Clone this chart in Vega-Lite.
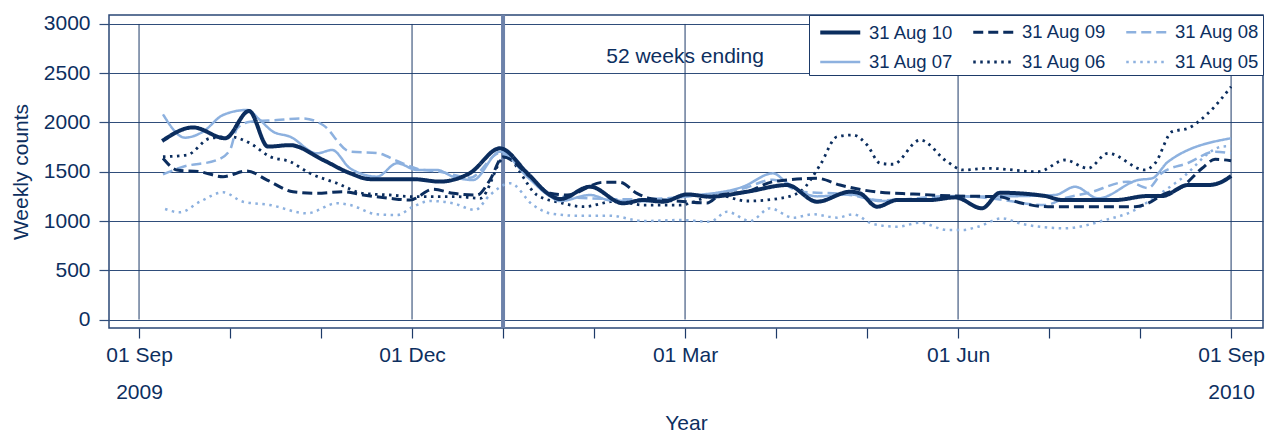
{
  "$schema": "https://vega.github.io/schema/vega-lite/v6.json",
  "width": 1154,
  "height": 313,
  "autosize": {"type": "none"},
  "padding": {"left": 109, "top": 15, "right": 13, "bottom": 104},
  "background": "white",
  "config": {
    "font": "Liberation Sans",
    "view": {"stroke": "#2a4775", "strokeWidth": 1.5},
    "axis": {"labelColor": "#0d2f5f", "titleColor": "#0d2f5f", "tickColor": "#1d3a68", "labelFont": "Liberation Sans", "titleFont": "Liberation Sans"},
    "legend": {
      "orient": "top-right", "offset": 0, "columns": 3, "direction": "horizontal",
      "symbolType": "M-0.5,0H2.7", "symbolSize": 625, "labelFontSize": 18.5, "labelColor": "#0d2f5f",
      "labelOffset": 28, "labelLimit": 300, "strokeColor": "#1d3a68", "fillColor": "white",
      "padding": 3, "rowPadding": 6, "columnPadding": 11, "labelFont": "Liberation Sans"
    }
  },
  "datasets": {
    "series": [
      {"series": "31 Aug 05", "week": 1.24, "count": 1122},
      {"series": "31 Aug 05", "week": 1.95, "count": 1088},
      {"series": "31 Aug 05", "week": 2.9, "count": 1196},
      {"series": "31 Aug 05", "week": 4.0, "count": 1291},
      {"series": "31 Aug 05", "week": 4.95, "count": 1196},
      {"series": "31 Aug 05", "week": 6.24, "count": 1162},
      {"series": "31 Aug 05", "week": 8.0, "count": 1078},
      {"series": "31 Aug 05", "week": 9.43, "count": 1180},
      {"series": "31 Aug 05", "week": 10.05, "count": 1162},
      {"series": "31 Aug 05", "week": 11.33, "count": 1068},
      {"series": "31 Aug 05", "week": 12.29, "count": 1061},
      {"series": "31 Aug 05", "week": 13.05, "count": 1145},
      {"series": "31 Aug 05", "week": 13.86, "count": 1203},
      {"series": "31 Aug 05", "week": 14.95, "count": 1180},
      {"series": "31 Aug 05", "week": 16.0, "count": 1112},
      {"series": "31 Aug 05", "week": 16.71, "count": 1264},
      {"series": "31 Aug 05", "week": 17.67, "count": 1383},
      {"series": "31 Aug 05", "week": 18.76, "count": 1162},
      {"series": "31 Aug 05", "week": 19.57, "count": 1078},
      {"series": "31 Aug 05", "week": 20.86, "count": 1054},
      {"series": "31 Aug 05", "week": 22.43, "count": 1054},
      {"series": "31 Aug 05", "week": 24.0, "count": 1000},
      {"series": "31 Aug 05", "week": 25.76, "count": 1010},
      {"series": "31 Aug 05", "week": 27.19, "count": 993},
      {"series": "31 Aug 05", "week": 28.0, "count": 1094},
      {"series": "31 Aug 05", "week": 29.1, "count": 1000},
      {"series": "31 Aug 05", "week": 30.05, "count": 1129},
      {"series": "31 Aug 05", "week": 31.14, "count": 1034},
      {"series": "31 Aug 05", "week": 32.1, "count": 1068},
      {"series": "31 Aug 05", "week": 33.24, "count": 1034},
      {"series": "31 Aug 05", "week": 34.0, "count": 1068},
      {"series": "31 Aug 05", "week": 34.95, "count": 970},
      {"series": "31 Aug 05", "week": 36.1, "count": 942},
      {"series": "31 Aug 05", "week": 37.19, "count": 983},
      {"series": "31 Aug 05", "week": 38.48, "count": 909},
      {"series": "31 Aug 05", "week": 39.24, "count": 909},
      {"series": "31 Aug 05", "week": 39.95, "count": 942},
      {"series": "31 Aug 05", "week": 41.1, "count": 1027},
      {"series": "31 Aug 05", "week": 42.05, "count": 970},
      {"series": "31 Aug 05", "week": 44.1, "count": 926},
      {"series": "31 Aug 05", "week": 46.0, "count": 1010},
      {"series": "31 Aug 05", "week": 47.43, "count": 1112},
      {"series": "31 Aug 05", "week": 48.05, "count": 1196},
      {"series": "31 Aug 05", "week": 49.57, "count": 1420},
      {"series": "31 Aug 05", "week": 51.57, "count": 1755},
      {"series": "31 Aug 05", "week": 52.0, "count": 1760},

      {"series": "31 Aug 06", "week": 1.14, "count": 1653},
      {"series": "31 Aug 06", "week": 2.29, "count": 1670},
      {"series": "31 Aug 06", "week": 3.38, "count": 1840},
      {"series": "31 Aug 06", "week": 4.33, "count": 1856},
      {"series": "31 Aug 06", "week": 5.29, "count": 1789},
      {"series": "31 Aug 06", "week": 6.24, "count": 1653},
      {"series": "31 Aug 06", "week": 7.19, "count": 1602},
      {"series": "31 Aug 06", "week": 8.14, "count": 1484},
      {"series": "31 Aug 06", "week": 9.43, "count": 1383},
      {"series": "31 Aug 06", "week": 10.67, "count": 1281},
      {"series": "31 Aug 06", "week": 11.95, "count": 1264},
      {"series": "31 Aug 06", "week": 13.05, "count": 1247},
      {"series": "31 Aug 06", "week": 13.86, "count": 1247},
      {"series": "31 Aug 06", "week": 15.14, "count": 1247},
      {"series": "31 Aug 06", "week": 16.24, "count": 1230},
      {"series": "31 Aug 06", "week": 17.43, "count": 1650},
      {"series": "31 Aug 06", "week": 18.95, "count": 1264},
      {"series": "31 Aug 06", "week": 20.19, "count": 1180},
      {"series": "31 Aug 06", "week": 21.14, "count": 1145},
      {"series": "31 Aug 06", "week": 22.76, "count": 1203},
      {"series": "31 Aug 06", "week": 24.0, "count": 1162},
      {"series": "31 Aug 06", "week": 25.76, "count": 1162},
      {"series": "31 Aug 06", "week": 27.52, "count": 1264},
      {"series": "31 Aug 06", "week": 28.95, "count": 1203},
      {"series": "31 Aug 06", "week": 30.52, "count": 1230},
      {"series": "31 Aug 06", "week": 31.48, "count": 1297},
      {"series": "31 Aug 06", "week": 32.43, "count": 1568},
      {"series": "31 Aug 06", "week": 33.24, "count": 1856},
      {"series": "31 Aug 06", "week": 34.0, "count": 1873},
      {"series": "31 Aug 06", "week": 34.67, "count": 1771},
      {"series": "31 Aug 06", "week": 35.29, "count": 1586},
      {"series": "31 Aug 06", "week": 35.9, "count": 1576},
      {"series": "31 Aug 06", "week": 37.19, "count": 1822},
      {"series": "31 Aug 06", "week": 38.48, "count": 1602},
      {"series": "31 Aug 06", "week": 39.24, "count": 1518},
      {"series": "31 Aug 06", "week": 40.43, "count": 1535},
      {"series": "31 Aug 06", "week": 42.81, "count": 1500},
      {"series": "31 Aug 06", "week": 44.1, "count": 1619},
      {"series": "31 Aug 06", "week": 45.19, "count": 1535},
      {"series": "31 Aug 06", "week": 46.14, "count": 1687},
      {"series": "31 Aug 06", "week": 47.9, "count": 1518},
      {"series": "31 Aug 06", "week": 48.38, "count": 1586},
      {"series": "31 Aug 06", "week": 49.19, "count": 1907},
      {"series": "31 Aug 06", "week": 49.95, "count": 1941},
      {"series": "31 Aug 06", "week": 50.9, "count": 2093},
      {"series": "31 Aug 06", "week": 52.0, "count": 2363},

      {"series": "31 Aug 07", "week": 1.14, "count": 2083},
      {"series": "31 Aug 07", "week": 2.19, "count": 1846},
      {"series": "31 Aug 07", "week": 3.05, "count": 1907},
      {"series": "31 Aug 07", "week": 4.0, "count": 2076},
      {"series": "31 Aug 07", "week": 5.14, "count": 2127},
      {"series": "31 Aug 07", "week": 5.76, "count": 2025},
      {"series": "31 Aug 07", "week": 6.38, "count": 1907},
      {"series": "31 Aug 07", "week": 7.19, "count": 1856},
      {"series": "31 Aug 07", "week": 8.48, "count": 1687},
      {"series": "31 Aug 07", "week": 9.19, "count": 1721},
      {"series": "31 Aug 07", "week": 10.05, "count": 1535},
      {"series": "31 Aug 07", "week": 11.33, "count": 1450},
      {"series": "31 Aug 07", "week": 12.29, "count": 1586},
      {"series": "31 Aug 07", "week": 13.24, "count": 1518},
      {"series": "31 Aug 07", "week": 14.19, "count": 1518},
      {"series": "31 Aug 07", "week": 14.95, "count": 1450},
      {"series": "31 Aug 07", "week": 15.9, "count": 1416},
      {"series": "31 Aug 07", "week": 17.19, "count": 1704},
      {"series": "31 Aug 07", "week": 18.48, "count": 1450},
      {"series": "31 Aug 07", "week": 19.57, "count": 1250},
      {"series": "31 Aug 07", "week": 20.05, "count": 1203},
      {"series": "31 Aug 07", "week": 21.48, "count": 1264},
      {"series": "31 Aug 07", "week": 22.43, "count": 1210},
      {"series": "31 Aug 07", "week": 24.0, "count": 1200},
      {"series": "31 Aug 07", "week": 26.1, "count": 1250},
      {"series": "31 Aug 07", "week": 28.76, "count": 1348},
      {"series": "31 Aug 07", "week": 30.19, "count": 1484},
      {"series": "31 Aug 07", "week": 30.86, "count": 1386},
      {"series": "31 Aug 07", "week": 32.29, "count": 1250},
      {"series": "31 Aug 07", "week": 33.86, "count": 1270},
      {"series": "31 Aug 07", "week": 35.29, "count": 1203},
      {"series": "31 Aug 07", "week": 37.67, "count": 1220},
      {"series": "31 Aug 07", "week": 38.86, "count": 1247},
      {"series": "31 Aug 07", "week": 41.0, "count": 1250},
      {"series": "31 Aug 07", "week": 43.62, "count": 1264},
      {"series": "31 Aug 07", "week": 44.57, "count": 1348},
      {"series": "31 Aug 07", "week": 45.67, "count": 1230},
      {"series": "31 Aug 07", "week": 47.57, "count": 1416},
      {"series": "31 Aug 07", "week": 48.24, "count": 1433},
      {"series": "31 Aug 07", "week": 49.0, "count": 1602},
      {"series": "31 Aug 07", "week": 52.0, "count": 1840},

      {"series": "31 Aug 08", "week": 1.14, "count": 1474},
      {"series": "31 Aug 08", "week": 2.1, "count": 1551},
      {"series": "31 Aug 08", "week": 3.71, "count": 1619},
      {"series": "31 Aug 08", "week": 4.33, "count": 1721},
      {"series": "31 Aug 08", "week": 4.67, "count": 1941},
      {"series": "31 Aug 08", "week": 5.29, "count": 2008},
      {"series": "31 Aug 08", "week": 6.57, "count": 2025},
      {"series": "31 Aug 08", "week": 7.81, "count": 2042},
      {"series": "31 Aug 08", "week": 8.76, "count": 1975},
      {"series": "31 Aug 08", "week": 10.05, "count": 1704},
      {"series": "31 Aug 08", "week": 11.33, "count": 1690},
      {"series": "31 Aug 08", "week": 12.29, "count": 1610},
      {"series": "31 Aug 08", "week": 13.24, "count": 1530},
      {"series": "31 Aug 08", "week": 14.33, "count": 1500},
      {"series": "31 Aug 08", "week": 15.76, "count": 1440},
      {"series": "31 Aug 08", "week": 17.19, "count": 1690},
      {"series": "31 Aug 08", "week": 18.48, "count": 1470},
      {"series": "31 Aug 08", "week": 19.81, "count": 1260},
      {"series": "31 Aug 08", "week": 21.48, "count": 1230},
      {"series": "31 Aug 08", "week": 23.86, "count": 1220},
      {"series": "31 Aug 08", "week": 26.1, "count": 1250},
      {"series": "31 Aug 08", "week": 28.76, "count": 1330},
      {"series": "31 Aug 08", "week": 30.19, "count": 1420},
      {"series": "31 Aug 08", "week": 31.48, "count": 1300},
      {"series": "31 Aug 08", "week": 33.71, "count": 1270},
      {"series": "31 Aug 08", "week": 35.29, "count": 1210},
      {"series": "31 Aug 08", "week": 38.86, "count": 1254},
      {"series": "31 Aug 08", "week": 40.43, "count": 1233},
      {"series": "31 Aug 08", "week": 43.14, "count": 1162},
      {"series": "31 Aug 08", "week": 44.1, "count": 1233},
      {"series": "31 Aug 08", "week": 45.19, "count": 1284},
      {"series": "31 Aug 08", "week": 47.1, "count": 1399},
      {"series": "31 Aug 08", "week": 48.05, "count": 1335},
      {"series": "31 Aug 08", "week": 48.71, "count": 1487},
      {"series": "31 Aug 08", "week": 49.95, "count": 1589},
      {"series": "31 Aug 08", "week": 51.24, "count": 1704},
      {"series": "31 Aug 08", "week": 52.0, "count": 1687},

      {"series": "31 Aug 09", "week": 1.14, "count": 1636},
      {"series": "31 Aug 09", "week": 1.81, "count": 1518},
      {"series": "31 Aug 09", "week": 2.9, "count": 1500},
      {"series": "31 Aug 09", "week": 4.0, "count": 1450},
      {"series": "31 Aug 09", "week": 5.14, "count": 1508},
      {"series": "31 Aug 09", "week": 6.1, "count": 1416},
      {"series": "31 Aug 09", "week": 7.33, "count": 1297},
      {"series": "31 Aug 09", "week": 8.48, "count": 1281},
      {"series": "31 Aug 09", "week": 9.71, "count": 1297},
      {"series": "31 Aug 09", "week": 10.67, "count": 1264},
      {"series": "31 Aug 09", "week": 11.95, "count": 1230},
      {"series": "31 Aug 09", "week": 12.9, "count": 1213},
      {"series": "31 Aug 09", "week": 14.0, "count": 1322},
      {"series": "31 Aug 09", "week": 14.95, "count": 1281},
      {"series": "31 Aug 09", "week": 16.1, "count": 1264},
      {"series": "31 Aug 09", "week": 16.71, "count": 1416},
      {"series": "31 Aug 09", "week": 17.33, "count": 1650},
      {"series": "31 Aug 09", "week": 18.62, "count": 1450},
      {"series": "31 Aug 09", "week": 19.57, "count": 1281},
      {"series": "31 Aug 09", "week": 20.38, "count": 1264},
      {"series": "31 Aug 09", "week": 22.1, "count": 1393},
      {"series": "31 Aug 09", "week": 22.9, "count": 1393},
      {"series": "31 Aug 09", "week": 23.71, "count": 1281},
      {"series": "31 Aug 09", "week": 24.33, "count": 1230},
      {"series": "31 Aug 09", "week": 25.76, "count": 1200},
      {"series": "31 Aug 09", "week": 27.05, "count": 1183},
      {"series": "31 Aug 09", "week": 27.67, "count": 1264},
      {"series": "31 Aug 09", "week": 28.95, "count": 1297},
      {"series": "31 Aug 09", "week": 30.19, "count": 1399},
      {"series": "31 Aug 09", "week": 32.29, "count": 1433},
      {"series": "31 Aug 09", "week": 33.38, "count": 1365},
      {"series": "31 Aug 09", "week": 35.29, "count": 1291},
      {"series": "31 Aug 09", "week": 36.86, "count": 1274},
      {"series": "31 Aug 09", "week": 38.86, "count": 1254},
      {"series": "31 Aug 09", "week": 40.9, "count": 1247},
      {"series": "31 Aug 09", "week": 42.05, "count": 1180},
      {"series": "31 Aug 09", "week": 43.29, "count": 1145},
      {"series": "31 Aug 09", "week": 45.19, "count": 1145},
      {"series": "31 Aug 09", "week": 47.43, "count": 1145},
      {"series": "31 Aug 09", "week": 48.05, "count": 1180},
      {"series": "31 Aug 09", "week": 48.71, "count": 1264},
      {"series": "31 Aug 09", "week": 49.67, "count": 1348},
      {"series": "31 Aug 09", "week": 50.62, "count": 1535},
      {"series": "31 Aug 09", "week": 51.24, "count": 1626},
      {"series": "31 Aug 09", "week": 52.0, "count": 1612},

      {"series": "31 Aug 10", "week": 1.1, "count": 1812},
      {"series": "31 Aug 10", "week": 2.57, "count": 1950},
      {"series": "31 Aug 10", "week": 4.1, "count": 1840},
      {"series": "31 Aug 10", "week": 5.24, "count": 2117},
      {"series": "31 Aug 10", "week": 6.14, "count": 1755},
      {"series": "31 Aug 10", "week": 7.19, "count": 1770},
      {"series": "31 Aug 10", "week": 8.76, "count": 1620},
      {"series": "31 Aug 10", "week": 10.05, "count": 1485},
      {"series": "31 Aug 10", "week": 11.0, "count": 1425},
      {"series": "31 Aug 10", "week": 13.05, "count": 1425},
      {"series": "31 Aug 10", "week": 14.33, "count": 1400},
      {"series": "31 Aug 10", "week": 15.76, "count": 1487},
      {"series": "31 Aug 10", "week": 17.19, "count": 1738},
      {"series": "31 Aug 10", "week": 18.48, "count": 1487},
      {"series": "31 Aug 10", "week": 19.57, "count": 1264},
      {"series": "31 Aug 10", "week": 20.05, "count": 1223},
      {"series": "31 Aug 10", "week": 21.48, "count": 1348},
      {"series": "31 Aug 10", "week": 23.05, "count": 1180},
      {"series": "31 Aug 10", "week": 24.0, "count": 1213},
      {"series": "31 Aug 10", "week": 24.95, "count": 1196},
      {"series": "31 Aug 10", "week": 26.1, "count": 1270},
      {"series": "31 Aug 10", "week": 27.19, "count": 1247},
      {"series": "31 Aug 10", "week": 28.95, "count": 1297},
      {"series": "31 Aug 10", "week": 30.86, "count": 1365},
      {"series": "31 Aug 10", "week": 32.29, "count": 1196},
      {"series": "31 Aug 10", "week": 33.86, "count": 1297},
      {"series": "31 Aug 10", "week": 34.33, "count": 1281},
      {"series": "31 Aug 10", "week": 35.14, "count": 1145},
      {"series": "31 Aug 10", "week": 36.1, "count": 1213},
      {"series": "31 Aug 10", "week": 37.67, "count": 1213},
      {"series": "31 Aug 10", "week": 38.86, "count": 1240},
      {"series": "31 Aug 10", "week": 40.14, "count": 1129},
      {"series": "31 Aug 10", "week": 41.0, "count": 1287},
      {"series": "31 Aug 10", "week": 43.14, "count": 1254},
      {"series": "31 Aug 10", "week": 43.95, "count": 1213},
      {"series": "31 Aug 10", "week": 46.48, "count": 1213},
      {"series": "31 Aug 10", "week": 48.05, "count": 1254},
      {"series": "31 Aug 10", "week": 48.71, "count": 1254},
      {"series": "31 Aug 10", "week": 49.95, "count": 1365},
      {"series": "31 Aug 10", "week": 50.9, "count": 1365},
      {"series": "31 Aug 10", "week": 51.57, "count": 1399},
      {"series": "31 Aug 10", "week": 52.0, "count": 1457}
    ],
    "quarters": [{"week": 0}, {"week": 13}, {"week": 26}, {"week": 39}, {"week": 52}],
    "yearstart": [{"week": 17.333}],
    "note": [{"text": "52 weeks ending", "week": 26, "count": 2665}]
  },
  "encoding": {
    "x": {
      "field": "week",
      "type": "quantitative",
      "scale": {"domain": [-1.43, 53.52], "nice": false, "zero": false},
      "axis": {
        "values": [0, 4.3333, 8.6667, 13, 17.3333, 21.6667, 26, 30.3333, 34.6667, 39, 43.3333, 47.6667, 52],
        "grid": false,
        "domain": false,
        "tickSize": 10,
        "tickWidth": 1.2,
        "labelFontSize": 21,
        "labelPadding": 6,
        "labelLineHeight": 37,
        "labelFlush": false,
        "labelOverlap": false,
        "labelBound": false,
        "labelBaseline": "top",
        "labelExpr": "datum.value == 0 ? ['01 Sep', '2009'] : datum.value == 13 ? '01 Dec' : datum.value == 26 ? '01 Mar' : datum.value == 39 ? '01 Jun' : datum.value == 52 ? ['01 Sep', '2010'] : ''",
        "title": "Year",
        "titleFontSize": 21,
        "titleFontWeight": "normal",
        "titlePadding": 10
      }
    }
  },
  "layer": [
    {
      "data": {"name": "quarters"},
      "mark": {"type": "rule", "color": "#1d3a68", "strokeWidth": 1},
      "encoding": {
        "y": {"datum": 0, "type": "quantitative"},
        "y2": {"datum": 3000}
      }
    },
    {
      "data": {"name": "yearstart"},
      "mark": {"type": "rule", "color": "#6d82aa", "strokeWidth": 4},
      "encoding": {}
    },
    {
      "data": {"name": "series"},
      "mark": {"type": "line", "interpolate": "monotone"},
      "encoding": {
        "y": {
          "field": "count",
          "type": "quantitative",
          "scale": {"domain": [-86, 3091], "nice": false, "zero": false},
          "axis": {
            "values": [0, 500, 1000, 1500, 2000, 2500, 3000],
            "format": "d",
            "grid": true,
            "gridColor": "#2f4d7a",
            "gridWidth": 1.2,
            "domain": false,
            "tickSize": 10,
            "tickColor": "#2f4d7a",
            "tickWidth": 1.2,
            "labelFontSize": 21,
            "labelPadding": 9,
            "title": "Weekly counts",
            "titleFontSize": 21,
            "titleFontWeight": "normal",
            "titlePadding": 12
          }
        },
        "color": {
          "field": "series",
          "type": "nominal",
          "title": null,
          "scale": {
            "domain": ["31 Aug 10", "31 Aug 09", "31 Aug 08", "31 Aug 07", "31 Aug 06", "31 Aug 05"],
            "range": ["#0b2d5e", "#0b2d5e", "#8db1df", "#8db1df", "#0b2d5e", "#8db1df"]
          }
        },
        "strokeDash": {
          "field": "series",
          "type": "nominal",
          "title": null,
          "scale": {
            "domain": ["31 Aug 10", "31 Aug 09", "31 Aug 08", "31 Aug 07", "31 Aug 06", "31 Aug 05"],
            "range": [[1, 0], [10, 5], [10, 5], [1, 0], [2.5, 4.5], [2.5, 4.5]]
          }
        },
        "strokeWidth": {
          "field": "series",
          "type": "nominal",
          "title": null,
          "scale": {
            "type": "ordinal",
            "domain": ["31 Aug 10", "31 Aug 09", "31 Aug 08", "31 Aug 07", "31 Aug 06", "31 Aug 05"],
            "range": [4, 3, 2.5, 2.5, 2.8, 2.5]
          }
        }
      }
    },
    {
      "data": {"name": "note"},
      "mark": {"type": "text", "fontSize": 21, "color": "#0d2f5f", "align": "center", "baseline": "middle", "font": "Liberation Sans"},
      "encoding": {
        "y": {"field": "count", "type": "quantitative"},
        "text": {"field": "text"}
      }
    }
  ]
}
